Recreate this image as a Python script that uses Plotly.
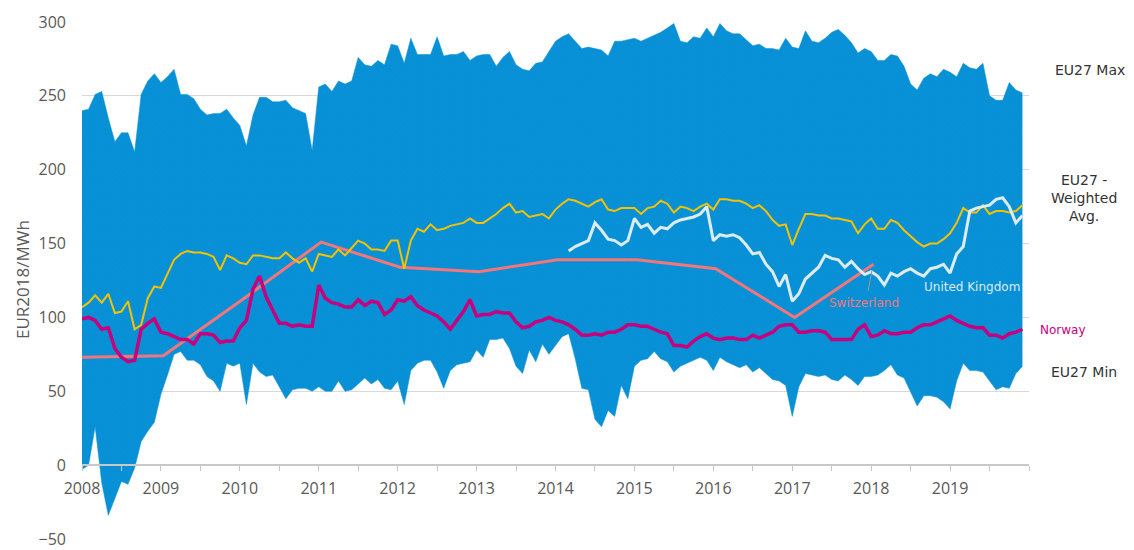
import plotly.graph_objects as go

# ---- data (monthly, Jan 2008 .. Dec 2019) ----
start_year = 2008
eu_max = [240, 241, 251, 253, 235, 219, 225, 225, 212, 251, 260, 265,
          259, 263, 268, 251, 251, 248, 241, 237, 238, 238, 241, 235,
          230, 216, 237, 249, 249, 246, 246, 247, 242, 240, 238, 213,
          256, 258, 253, 260, 258, 260, 276, 271, 270, 274, 271, 285,
          284, 272, 289, 278, 278, 278, 290, 277, 278, 278, 280, 274,
          277, 278, 278, 270, 276, 280, 271, 268, 267, 272, 273, 280,
          287, 290, 292, 287, 282, 283, 282, 281, 277, 287, 287, 288,
          289, 287, 289, 291, 293, 296, 299, 287, 286, 290, 289, 296,
          290, 299, 294, 292, 292, 288, 284, 285, 282, 282, 281, 289,
          283, 282, 294, 287, 286, 289, 293, 295, 291, 286, 279, 282,
          280, 274, 274, 278, 277, 270, 258, 254, 262, 265, 263, 268,
          266, 263, 272, 269, 268, 272, 250, 247, 247, 259, 254, 252]
eu_min = [-3, 0, 26, -12, -34, -23, -11, -13, -2, 16, 23, 29,
          48, 61, 75, 77, 71, 71, 68, 60, 57, 50, 69, 67,
          69, 41, 69, 63, 60, 61, 53, 45, 51, 52, 52, 50,
          53, 50, 50, 57, 50, 51, 55, 59, 55, 58, 52, 51,
          57, 41, 64, 69, 71, 71, 63, 52, 64, 68, 69, 70,
          78, 73, 85, 85, 86, 79, 67, 62, 78, 70, 82, 75,
          81, 87, 89, 72, 52, 51, 31, 26, 37, 33, 54, 45,
          67, 71, 72, 77, 72, 70, 63, 67, 69, 71, 73, 71,
          64, 73, 70, 68, 66, 68, 63, 66, 62, 58, 57, 54,
          33, 53, 62, 61, 60, 61, 58, 57, 61, 58, 54, 60,
          60, 61, 64, 68, 61, 59, 50, 40, 47, 47, 46, 43,
          38, 57, 69, 64, 64, 63, 57, 51, 53, 52, 62, 67]
eu_avg = [107, 110, 115, 110, 116, 103, 104, 111, 92, 95, 113, 121,
          120, 130, 139, 143, 145, 144, 144, 143, 141, 132, 142, 140,
          137, 136, 142, 142, 141, 140, 140, 144, 140, 137, 140, 131,
          143, 142, 141, 146, 142, 147, 152, 150, 146, 146, 145, 152,
          152, 133, 152, 160, 158, 163, 159, 160, 162, 163, 164, 167,
          164, 164, 167, 170, 174, 177, 171, 172, 168, 169, 170, 167,
          173, 177, 180, 179, 177, 175, 178, 180, 173, 172, 174, 174,
          174, 170, 174, 175, 179, 177, 171, 175, 174, 172, 175, 177,
          173, 180, 180, 179, 179, 177, 174, 176, 172, 166, 162, 163,
          149, 160, 170, 170, 169, 169, 167, 167, 166, 165, 157, 163,
          167, 160, 160, 166, 164, 159, 155, 151, 148, 150, 150, 153,
          157, 164, 174, 171, 171, 176, 170, 172, 172, 171, 172, 176]
norway = [99, 100, 98, 92, 93, 79, 73, 70, 71, 92, 96, 99,
          90, 89, 87, 85, 85, 82, 89, 89, 88, 83, 84, 84,
          93, 98, 119, 128, 114, 105, 96, 96, 94, 95, 94, 94,
          122, 113, 110, 109, 107, 107, 112, 108, 111, 110, 102, 105,
          112, 111, 114, 108, 105, 103, 101, 97, 92, 98, 104, 112,
          101, 102, 102, 104, 103, 103, 97, 93, 94, 97, 98, 100,
          98, 97, 95, 92, 88, 88, 89, 88, 90, 90, 92, 95,
          95, 94, 94, 92, 90, 89, 81, 81, 80, 84, 87, 89,
          86, 85, 86, 86, 85, 85, 88, 86, 88, 90, 94, 95,
          95, 90, 90, 91, 91, 90, 85, 85, 85, 85, 92, 95,
          87, 88, 91, 89, 89, 90, 90, 93, 95, 95, 97, 99,
          101, 98, 96, 94, 93, 93, 88, 88, 86, 89, 90, 92]
uk_first_month = 74  # March 2014
uk = [145, 148, 150, 152, 164, 159, 153, 152, 149, 152,
      167, 161, 163, 157, 161, 160, 164, 166, 167, 168, 170, 175,
      152, 156, 155, 156, 154, 149, 143, 144, 136, 131, 121, 129,
      111, 116, 126, 130, 134, 142, 140, 139, 134, 138, 133, 129,
      131, 128, 122, 130, 128, 131, 133, 130, 128, 133, 134, 136,
      130, 143, 148, 172, 174, 175, 176, 180, 181, 175, 164, 169]
swiss_x = [2008.0, 2009.03, 2010.03, 2011.03, 2012.03, 2013.03, 2014.03,
           2015.03, 2016.03, 2017.03, 2018.03]
swiss = [73, 74, 112, 151, 134, 131, 139, 139, 133, 100, 136]

months_x = [start_year + i / 12 for i in range(len(eu_max))]
uk_x = [start_year + (uk_first_month + i) / 12 for i in range(len(uk))]

# page body has an 8px margin -> figure origin sits at (8, 8)
OFF = 8
W, H = 1134 - OFF, 550 - OFF
PL, PR, PT, PB = 82, 1029, 22, 539          # plot area in page pixels
ML, MR, MT, MB = PL - OFF, W - (PR - OFF), PT - OFF, H - (PB - OFF)
PW, PH = PR - PL, PB - PT


def px(x):
    return (x - PL) / PW


def py(y):
    return (PB - y) / PH


BLUE = "#0891d6"
fig = go.Figure()
fig.add_trace(go.Scatter(x=months_x, y=eu_min, mode="lines",
                         line=dict(color=BLUE, width=0.5), hoverinfo="skip"))
fig.add_trace(go.Scatter(x=months_x, y=eu_max, mode="lines", fill="tonexty",
                         fillcolor=BLUE, line=dict(color=BLUE, width=0.5),
                         fillpattern=dict(shape="x", size=4, solidity=0.12,
                                          fgcolor="#0a7fc2", bgcolor=BLUE)))
fig.add_trace(go.Scatter(x=swiss_x, y=swiss, mode="lines",
                         line=dict(color="#f2767a", width=3)))
fig.add_trace(go.Scatter(x=months_x, y=eu_avg, mode="lines",
                         line=dict(color="#f5c200", width=2)))
fig.add_trace(go.Scatter(x=uk_x, y=uk, mode="lines",
                         line=dict(color="#dcecf2", width=3)))
fig.add_trace(go.Scatter(x=months_x, y=norway, mode="lines",
                         line=dict(color="#c8007e", width=3.5)))

tickvals = [2008 + 0.5 * k for k in range(25)]
ticktext = [str(int(v)) if v == int(v) and int(v) < 2020 else "" for v in tickvals]

fig.update_layout(
    width=W, height=H,
    margin=dict(l=ML, r=MR, t=MT, b=MB),
    paper_bgcolor="white", plot_bgcolor="white",
    showlegend=False,
    font=dict(family="Open Sans", color="#595959"),
    xaxis=dict(range=[2008, 2020], tickmode="array", tickvals=tickvals,
               ticktext=ticktext, showgrid=False, zeroline=False,
               showline=True, linecolor="#c8c8c8", linewidth=1.5,
               ticks="outside", ticklen=5, tickcolor="#c8c8c8",
               ticklabelstandoff=4,
               anchor="free", position=1 / 7, automargin=False,
               tickfont=dict(size=16, color="#595959")),
    yaxis=dict(range=[-50, 300], tickmode="array",
               tickvals=[-50, 0, 50, 100, 150, 200, 250, 300],
               showgrid=True, gridcolor="#d9d9d9", gridwidth=1,
               zeroline=False, showline=False, ticks="",
               ticklabelstandoff=15, automargin=False,
               tickfont=dict(size=16, color="#595959")),
)

ann = [
    dict(text="EUR2018/MWh", x=px(22), y=py(280), textangle=-90,
         font=dict(size=17, color="#595959", family="Open Sans")),
    dict(text="EU27 Max", x=px(1090), y=py(70),
         font=dict(size=14, color="#333333", family="DejaVu Sans")),
    dict(text="EU27 -<br>Weighted<br>Avg.", x=px(1084), y=py(198),
         font=dict(size=14, color="#333333", family="DejaVu Sans")),
    dict(text="Norway", x=px(1038), y=py(330), xanchor="left",
         font=dict(size=12, color="#c8007e", family="DejaVu Sans")),
    dict(text="EU27 Min", x=px(1084), y=py(372),
         font=dict(size=14, color="#333333", family="DejaVu Sans")),
    dict(text="United Kingdom", x=px(922), y=py(287), xanchor="left",
         font=dict(size=12, color="#dcecf2", family="DejaVu Sans")),
    dict(text="Switzerland", x=px(827), y=py(303), xanchor="left",
         font=dict(size=12, color="#f2767a", family="DejaVu Sans")),
]
for a in ann:
    a.setdefault("xanchor", "center")
    fig.add_annotation(xref="paper", yref="paper", showarrow=False,
                       yanchor="middle", **a)

fig.add_shape(type="line", xref="paper", yref="paper",
              x0=px(868), y0=py(291), x1=px(872), y1=py(270),
              line=dict(color="#9a9a9a", width=1))

fig.write_html("out.html")
